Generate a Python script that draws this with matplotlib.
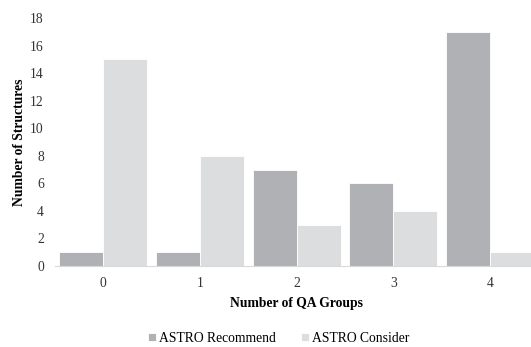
import matplotlib.pyplot as plt
import numpy as np

plt.rcParams['font.family'] = ['Liberation Serif', 'DejaVu Serif']

# QA 组数与结构数量
groups = ['0', '1', '2', '3', '4']
recommend = [1, 1, 7, 6, 17]
consider = [15, 8, 3, 4, 1]

fig = plt.figure(figsize=(5.31, 3.47), dpi=100)
ax = fig.add_axes([0.1036, 0.2334, 0.91, 0.7147])

x = np.arange(len(groups))
w = 0.455
ax.bar(x - w / 2, recommend, w, color='#b0b1b4', edgecolor='white', linewidth=0.6, label='ASTRO Recommend')
ax.bar(x + w / 2, consider, w, color='#dcdddf', edgecolor='white', linewidth=0.6, label='ASTRO Consider')

ax.set_xlim(-0.5, 4.5)
ax.set_ylim(0, 18)
ax.set_yticks(range(0, 19, 2))
ax.set_xticks(x)
ax.set_xticklabels(groups)
ax.tick_params(length=0, labelsize=9.8, colors='#333333')
ax.tick_params(axis='y', pad=8)
ax.tick_params(axis='x', pad=8)

for s in ['top', 'right', 'left']:
    ax.spines[s].set_visible(False)
ax.spines['bottom'].set_color('#d9d9d9')

ax.set_ylabel('Number of Structures', fontsize=9.8, fontweight='bold', labelpad=3)
ax.set_xlabel('Number of QA Groups', fontsize=9.8, fontweight='bold', labelpad=5)

fig.legend(loc='center', bbox_to_anchor=(0.525, 0.025), ncol=2, frameon=False,
           fontsize=9.8, handlelength=0.6, handleheight=0.6, handletextpad=0.25,
           columnspacing=1.8)

fig.savefig('out.png', dpi=100)
